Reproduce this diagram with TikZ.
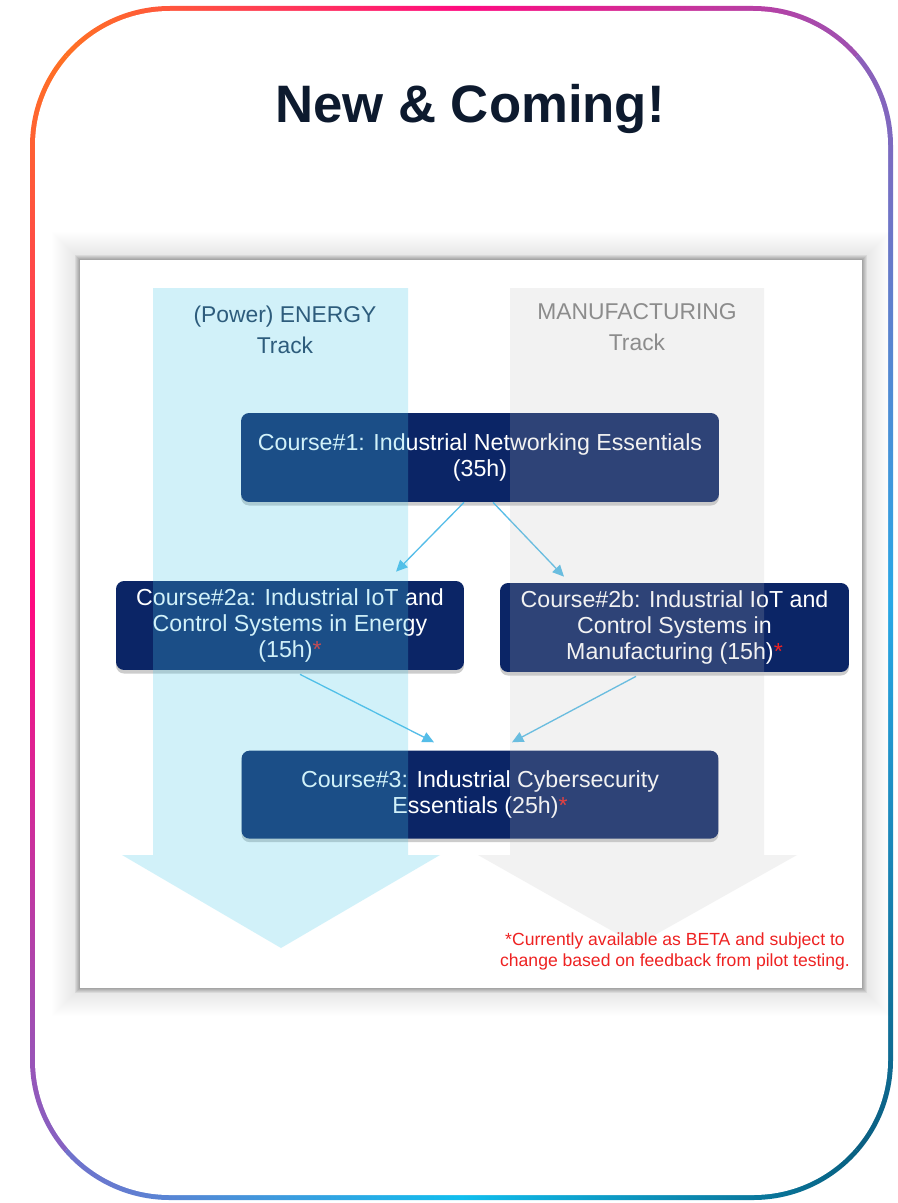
\documentclass[tikz,border=0pt]{standalone}
\usepackage{fontspec}
\setmainfont{Liberation Sans}
\usetikzlibrary{arrows.meta, positioning, calc, shadows}

\definecolor{titlenavy}{HTML}{0D1A2E}
\definecolor{coursebg}{HTML}{0B2566}
\definecolor{linkblue}{HTML}{55BDE8}
\definecolor{energycol}{RGB}{75,203,235}
\definecolor{manufcol}{RGB}{190,190,190}
\definecolor{energytext}{HTML}{2D5C7C}
\definecolor{manuftext}{HTML}{8C8C8C}
\definecolor{betared}{HTML}{EE2222}
\definecolor{rimorange}{HTML}{FF7A1C}
\definecolor{rimpink}{HTML}{FF0A80}
\definecolor{rimpurple}{HTML}{9558B5}
\definecolor{rimviolet}{HTML}{7A6AC8}
\definecolor{rimcyan}{HTML}{10BEEE}
\definecolor{rimsky}{HTML}{2AA8E6}
\definecolor{rimteal}{HTML}{075878}

\begin{document}
\begin{tikzpicture}[
      x=0.02cm, y=-0.02cm,
      course/.style={rectangle, rounded corners=0.16cm, fill=coursebg, text=white, align=center,
        inner sep=0pt, font=\fontsize{13.2}{14.6}\selectfont,
        drop shadow={opacity=0.4, shadow xshift=0pt, shadow yshift=-2pt}},
      track/.style={align=center, font=\fontsize{13}{17.6}\selectfont},
      link/.style={-{Triangle[length=6.5pt, width=6pt]}, draw=linkblue, line width=0.75pt}
    ]
    \useasboundingbox (0,0) rectangle (897,1203);

    % Frame
    \begin{scope}
      \clip[rounded corners=2.8cm] (30,6) rectangle (893,1200);
      \shade[left color=rimorange, right color=rimpurple, middle color=rimpink] (461.5,603) -- (30,6) -- (893,6) -- cycle;
      \shade[top color=rimpurple, bottom color=rimteal, middle color=rimsky] (461.5,603) -- (893,6) -- (893,1200) -- cycle;
      \shade[left color=rimviolet, right color=rimteal, middle color=rimcyan] (461.5,603) -- (893,1200) -- (30,1200) -- cycle;
      \shade[top color=rimorange, bottom color=rimviolet, middle color=rimpink] (461.5,603) -- (30,1200) -- (30,6) -- cycle;
    \end{scope}
    \fill[white, rounded corners=2.7cm] (35,11) rectangle (888,1195);

    \node[anchor=base, text=titlenavy, font=\fontsize{30}{36}\selectfont\bfseries] (title) at (470,123) {New \& Coming!};

    % Panel
    \foreach \i in {1,...,28}
      \fill[black, opacity=0.0035] (80-\i,260-\i) rectangle (862+\i,988+\i);
    \foreach \i in {1,...,5}
      \fill[black, opacity=0.06] (80-\i,260-\i) rectangle (862+\i,988+\i);
    \fill[white] (80,260) rectangle (862,988);

    % Courses
    \node[course, minimum width=9.56cm, minimum height=1.78cm] (c1) at (480,457.5)
      {Course\#1: Industrial Networking Essentials\\(35h)};
    \node[course, minimum width=6.96cm, minimum height=1.78cm] (c2a) at (290,625.5)
      {Course\#2a: Industrial IoT and\\Control Systems in Energy\\(15h)\textcolor{betared}{*}};
    \node[course, minimum width=6.98cm, minimum height=1.78cm] (c2b) at (674.5,627.5)
      {Course\#2b: Industrial IoT and\\Control Systems in\\Manufacturing (15h)\textcolor{betared}{*}};
    \node[course, minimum width=9.54cm, minimum height=1.76cm, below=4.96cm of c1] (c3)
      {Course\#3: Industrial Cybersecurity\\Essentials (25h)\textcolor{betared}{*}};

    % Links
    \draw[link] ($(c1.south)+(-16,0)$) -- ($(c2a.north)+(106,-9)$);
    \draw[link] ($(c1.south)+(13,0)$) -- ($(c2b.north)+(-110.5,-6)$);
    \draw[link] ($(c2a.south)+(10,4)$) -- ($(c3.north)+(-46,-8)$);
    \draw[link] ($(c2b.south)+(-38.5,4)$) -- ($(c3.north)+(32,-8)$);

    % Tracks
    \fill[energycol, opacity=0.25] (153,288) -- (408,288) -- (408,855) -- (440,855) -- (281,948) -- (122,855) -- (153,855) -- cycle;
    \fill[manufcol, opacity=0.2] (510,288) -- (764,288) -- (764,855) -- (797,855) -- (637,945) -- (478,855) -- (510,855) -- cycle;

    \node[track, text=energytext] (energy) at (285,330) {(Power) ENERGY\\Track};
    \node[track, text=manuftext] (manuf) at (637,327) {MANUFACTURING\\Track};

    \node[align=center, text=betared, font=\fontsize{10}{12}\selectfont] (beta) at (675,951)
      {*Currently available as BETA and subject to\\change based on feedback from pilot testing.};

    \end{tikzpicture}
\end{document}
